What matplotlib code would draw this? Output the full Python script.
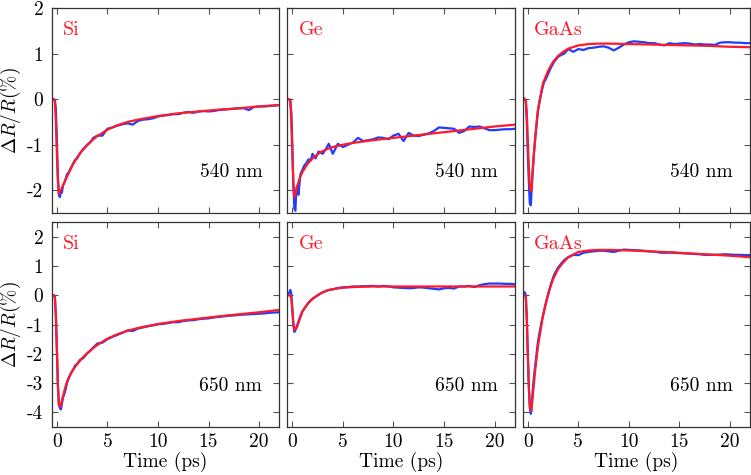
import matplotlib
matplotlib.use("Agg")
import matplotlib.pyplot as plt

plt.rcParams['font.family'] = ['cmr10', 'DejaVu Serif']
plt.rcParams['mathtext.fontset'] = 'cm'
plt.rcParams['axes.unicode_minus'] = False

# measured time points (ps)
data_t = [-0.5, -0.3, -0.2, -0.1, 0.0, 0.1, 0.2, 0.3, 0.4, 0.5, 0.6, 0.8, 1.0, 1.2,
          1.4, 1.6, 1.8, 2.0, 2.3, 2.6, 3.0, 3.3, 3.6, 4.0, 4.5, 5.0, 5.5, 6.0, 6.5,
          7.0, 7.5, 8.0, 8.5, 9.0, 9.5, 10.0, 10.5, 11.0, 11.5, 12.0, 12.5, 13.0,
          13.5, 14.0, 14.5, 15.0, 15.5, 16.0, 16.5, 17.0, 17.5, 18.0, 18.5, 19.0,
          19.5, 20.0, 20.5, 21.0, 21.5, 22.0]

# fit curve time points (ps)
fit_t = [-0.5, -0.3, -0.2, -0.1, 0.0, 0.1, 0.2, 0.35, 0.5, 0.75, 1, 1.5, 2, 2.5, 3,
         3.5, 4, 5, 6, 7, 8, 10, 12, 14, 16, 18, 20, 22]

# 540 nm measurements
si_540 = [0.02, 0.0, -0.02, -0.2, -0.9, -1.7, -2.1, -2.15, -2.0, -2.05, -1.9, -1.8,
          -1.65, -1.6, -1.5, -1.42, -1.33, -1.3, -1.18, -1.1, -1.0, -0.95, -0.85, -0.8,
          -0.8, -0.65, -0.62, -0.58, -0.55, -0.53, -0.56, -0.48, -0.45, -0.44, -0.42,
          -0.38, -0.36, -0.35, -0.33, -0.33, -0.3, -0.28, -0.3, -0.27, -0.26, -0.27,
          -0.26, -0.24, -0.23, -0.22, -0.21, -0.2, -0.2, -0.24, -0.17, -0.16, -0.16,
          -0.15, -0.14, -0.13]
ge_540 = [0.0, 0.0, -0.02, -0.3, -1.0, -1.9, -2.4, -2.45, -1.95, -1.9, -2.1, -1.65,
          -1.55, -1.45, -1.4, -1.32, -1.35, -1.2, -1.3, -1.15, -1.2, -1.1, -0.98, -1.2,
          -0.98, -1.05, -1.0, -0.95, -0.85, -0.92, -0.9, -0.88, -0.84, -0.85, -0.88,
          -0.8, -0.76, -0.92, -0.74, -0.8, -0.81, -0.78, -0.75, -0.7, -0.62, -0.63,
          -0.64, -0.65, -0.74, -0.7, -0.6, -0.61, -0.6, -0.64, -0.68, -0.68, -0.67,
          -0.66, -0.66, -0.65]
gaas_540 = [0.05, 0.0, -0.05, -0.5, -1.2, -1.8, -2.3, -2.33, -1.9, -1.55, -1.2, -0.7,
            -0.25, 0.0, 0.2, 0.37, 0.45, 0.55, 0.7, 0.82, 0.93, 0.97, 1.0, 1.1, 1.04,
            1.1, 1.08, 1.12, 1.13, 1.15, 1.16, 1.13, 1.07, 1.13, 1.2, 1.25, 1.27, 1.26,
            1.25, 1.23, 1.23, 1.2, 1.18, 1.23, 1.21, 1.22, 1.23, 1.22, 1.2, 1.21, 1.2,
            1.2, 1.19, 1.24, 1.25, 1.25, 1.24, 1.24, 1.23, 1.23]

# 650 nm measurements
si_650 = [0.0, 0.0, -0.05, -0.7, -1.9, -3.1, -3.75, -3.85, -3.9, -3.7, -3.5, -3.3,
          -3.0, -2.8, -2.65, -2.55, -2.4, -2.35, -2.2, -2.15, -1.98, -1.9, -1.78,
          -1.65, -1.62, -1.5, -1.42, -1.35, -1.28, -1.2, -1.22, -1.14, -1.1, -1.06,
          -1.03, -0.99, -0.98, -0.95, -0.92, -0.92, -0.88, -0.86, -0.85, -0.82, -0.8,
          -0.79, -0.76, -0.74, -0.72, -0.7, -0.69, -0.67, -0.66, -0.65, -0.64, -0.63,
          -0.62, -0.6, -0.59, -0.58]
ge_650 = [0.0, 0.1, 0.18, 0.05, -0.5, -1.0, -1.25, -1.2, -1.1, -1.0, -0.9, -0.7,
          -0.55, -0.45, -0.35, -0.25, -0.18, -0.12, -0.05, 0.02, 0.1, 0.14, 0.18, 0.2,
          0.25, 0.27, 0.28, 0.3, 0.3, 0.31, 0.31, 0.32, 0.3, 0.32, 0.3, 0.27, 0.26,
          0.25, 0.24, 0.25, 0.27, 0.26, 0.24, 0.22, 0.2, 0.24, 0.25, 0.23, 0.3, 0.3,
          0.32, 0.28, 0.34, 0.38, 0.4, 0.4, 0.4, 0.39, 0.39, 0.38]
gaas_650 = [0.1, 0.1, 0.0, -0.8, -2.0, -3.1, -3.85, -4.05, -3.7, -3.2, -2.8, -2.2,
            -1.6, -1.2, -0.85, -0.55, -0.25, 0.0, 0.4, 0.7, 0.95, 1.08, 1.2, 1.3, 1.38,
            1.37, 1.45, 1.48, 1.5, 1.52, 1.52, 1.5, 1.48, 1.52, 1.56, 1.55, 1.54, 1.53,
            1.52, 1.5, 1.49, 1.46, 1.45, 1.46, 1.45, 1.44, 1.43, 1.42, 1.41, 1.4, 1.38,
            1.38, 1.38, 1.39, 1.4, 1.39, 1.38, 1.38, 1.37, 1.37]

# fits
si_540_fit = [0, 0, -0.05, -0.5, -1.2, -1.8, -2.08, -2.02, -1.95, -1.82, -1.7, -1.47,
              -1.28, -1.13, -1.01, -0.9, -0.81, -0.67, -0.57, -0.5, -0.45, -0.37, -0.31,
              -0.27, -0.23, -0.2, -0.16, -0.13]
ge_540_fit = [0, 0, -0.05, -0.5, -1.2, -1.85, -2.15, -2.05, -1.9, -1.72, -1.6, -1.42,
              -1.3, -1.21, -1.14, -1.09, -1.05, -1.0, -0.96, -0.93, -0.9, -0.85, -0.8,
              -0.75, -0.7, -0.65, -0.6, -0.56]
gaas_540_fit = [0, 0, -0.02, -0.3, -0.9, -1.5, -1.95, -2.02, -1.5, -0.8, -0.25, 0.35,
                0.62, 0.82, 0.95, 1.04, 1.11, 1.18, 1.21, 1.22, 1.22, 1.21, 1.2, 1.19,
                1.18, 1.17, 1.15, 1.14]
si_650_fit = [0, 0, -0.05, -0.7, -1.8, -3.0, -3.75, -3.8, -3.6, -3.25, -2.95, -2.6,
              -2.35, -2.15, -1.98, -1.83, -1.7, -1.48, -1.33, -1.21, -1.12, -0.98, -0.88,
              -0.8, -0.72, -0.65, -0.58, -0.5]
ge_650_fit = [0, 0, 0, -0.1, -0.5, -0.95, -1.18, -1.15, -1.05, -0.8, -0.55, -0.3, -0.12,
              0.0, 0.1, 0.17, 0.21, 0.26, 0.28, 0.29, 0.3, 0.3, 0.3, 0.3, 0.3, 0.3, 0.3,
              0.3]
gaas_650_fit = [0, 0, -0.05, -0.8, -2.0, -3.1, -3.8, -3.95, -3.4, -2.5, -1.75, -0.7,
                0.05, 0.55, 0.9, 1.12, 1.3, 1.48, 1.53, 1.55, 1.55, 1.53, 1.5, 1.47,
                1.43, 1.39, 1.35, 1.3]

materials = ['Si', 'Ge', 'GaAs']
wavelengths = ['540 nm', '650 nm']
measured = [[si_540, ge_540, gaas_540], [si_650, ge_650, gaas_650]]
fitted = [[si_540_fit, ge_540_fit, gaas_540_fit], [si_650_fit, ge_650_fit, gaas_650_fit]]
ylims = [(-2.5, 2), (-4.5, 2.5)]
yticks = [[-2, -1, 0, 1, 2], [-4, -3, -2, -1, 0, 1, 2]]
xticks = [0, 5, 10, 15, 20]

blue = '#1f3cff'
red = '#ff1a2a'

fig, axes = plt.subplots(2, 3, figsize=(7.51, 4.75), dpi=100)
plt.subplots_adjust(left=0.069, right=0.999, top=0.983, bottom=0.101,
                    wspace=0.035, hspace=0.044)

for r in range(2):
    for c in range(3):
        ax = axes[r, c]
        ax.plot(data_t, measured[r][c], color=blue, lw=1.6)
        ax.plot(fit_t, fitted[r][c], color=red, lw=1.6)
        ax.set_xlim(-0.5, 22)
        ax.set_ylim(*ylims[r])
        ax.set_xticks(xticks)
        ax.set_xticklabels([str(v) for v in xticks])
        ax.set_yticks(yticks[r])
        ax.set_yticklabels([str(v) for v in yticks[r]])
        ax.tick_params(direction='in', top=True, right=True, length=4,
                       width=0.8, color='#555555', labelsize=14)
        ax.tick_params(axis='y', pad=6)
        ax.tick_params(axis='x', pad=4)
        for s in ax.spines.values():
            s.set_color('#333333')
            s.set_linewidth(0.9)
        ax.text(0.05, 0.895, materials[c], transform=ax.transAxes, color=red,
                fontsize=14.5, ha='left', va='center')
        ax.text(0.925, 0.2, wavelengths[r], transform=ax.transAxes, color='black',
                fontsize=14, ha='right', va='center')
        if c != 0:
            ax.tick_params(labelleft=False)
        else:
            ax.set_ylabel(r'$\Delta R/R(\%)$', fontsize=14)
            ax.yaxis.set_label_coords(-0.128, 0.5)
        if r == 0:
            ax.tick_params(labelbottom=False)
        else:
            ax.set_xlabel('Time (ps)', fontsize=14, labelpad=1)

fig.savefig('out.png', dpi=100)
